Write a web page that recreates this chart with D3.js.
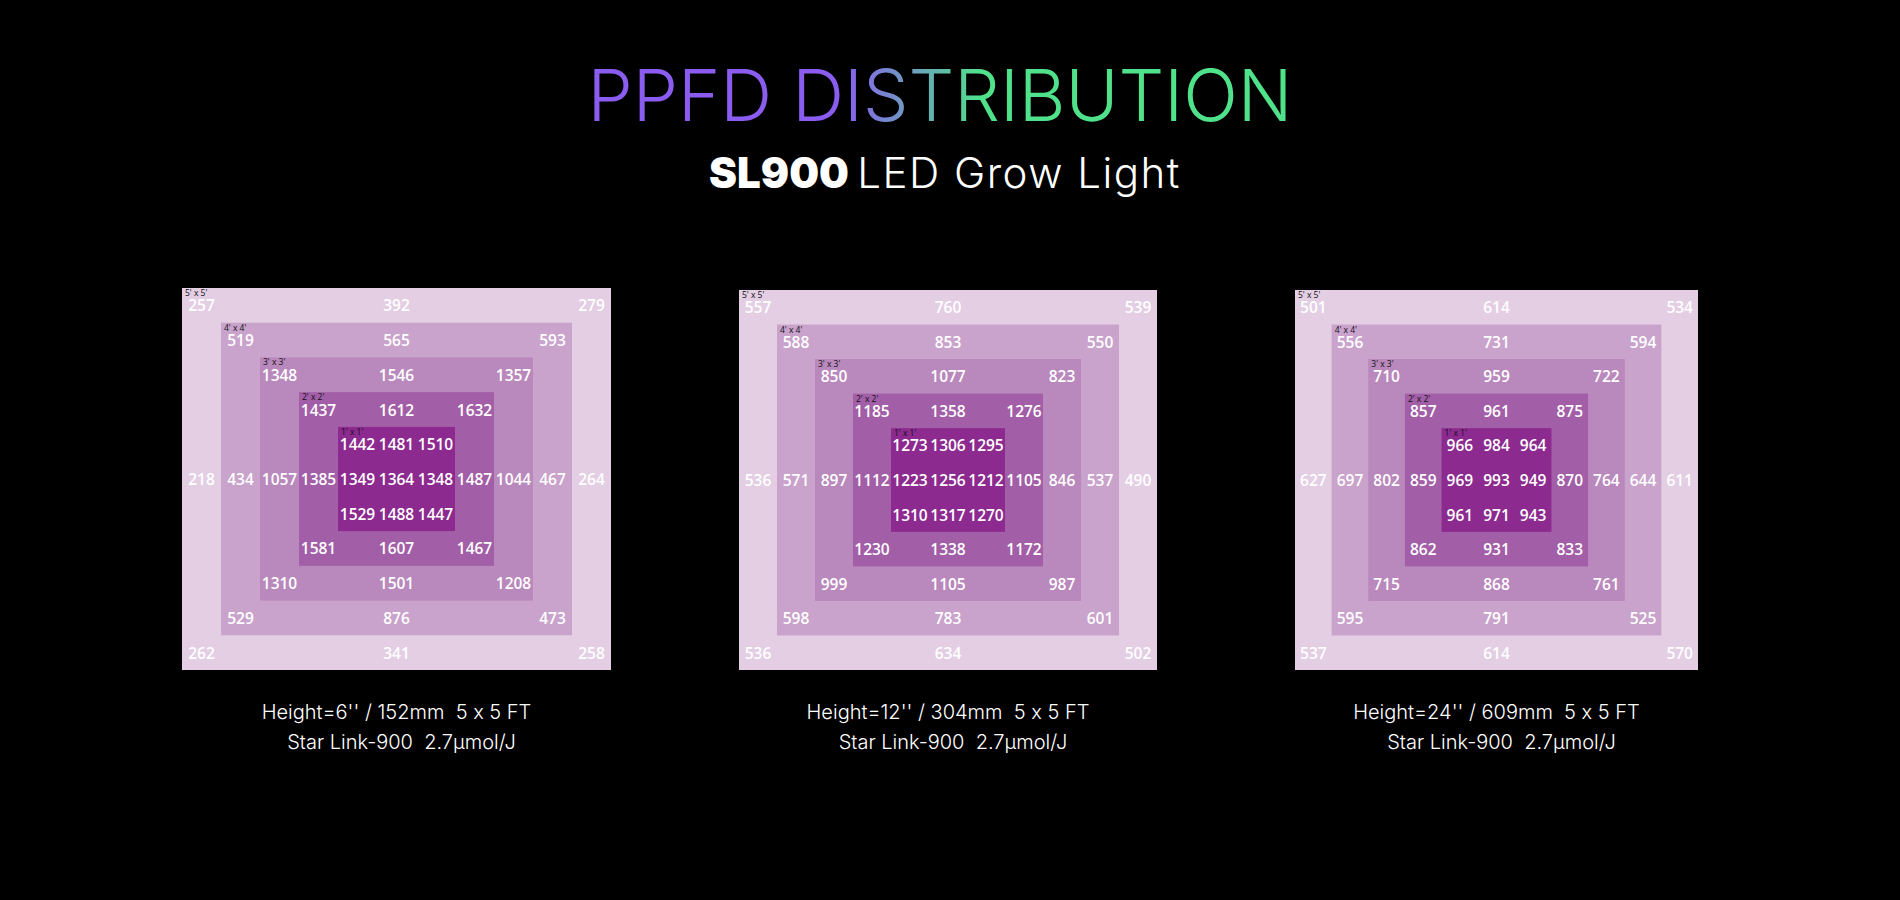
<!DOCTYPE html>
<html>
<head>
<meta charset="utf-8">
<script src="https://cdn.jsdelivr.net/npm/d3@7"></script>
<style>
  body { margin: 0; background: #000; }
  svg { display: block; }
  text { font-feature-settings: "calt" 0; }
</style>
</head>
<body>
<div id="chart"></div>
<script>
// ring labels, outer to inner
var rings = ["5' x 5'", "4' x 4'", "3' x 3'", "2' x 2'", "1' x 1'"];
var ringColors = ["#e3cee4", "#c9a3cc", "#b988bc", "#a25ea7", "#8c2a8f"];

// PPFD values per panel, row by row (top to bottom)
var ppfd6 = [
  [257, 392, 279], [519, 565, 593], [1348, 1546, 1357], [1437, 1612, 1632],
  [1442, 1481, 1510],
  [218, 434, 1057, 1385, 1349, 1364, 1348, 1487, 1044, 467, 264],
  [1529, 1488, 1447],
  [1581, 1607, 1467], [1310, 1501, 1208], [529, 876, 473], [262, 341, 258]
];
var ppfd12 = [
  [557, 760, 539], [588, 853, 550], [850, 1077, 823], [1185, 1358, 1276],
  [1273, 1306, 1295],
  [536, 571, 897, 1112, 1223, 1256, 1212, 1105, 846, 537, 490],
  [1310, 1317, 1270],
  [1230, 1338, 1172], [999, 1105, 987], [598, 783, 601], [536, 634, 502]
];
var ppfd24 = [
  [501, 614, 534], [556, 731, 594], [710, 959, 722], [857, 961, 875],
  [966, 984, 964],
  [627, 697, 802, 859, 969, 993, 949, 870, 764, 644, 611],
  [961, 971, 943],
  [862, 931, 833], [715, 868, 761], [595, 791, 525], [537, 614, 570]
];
var captions = [
  ["Height=6'' / 152mm  5 x 5 FT", "Star Link-900  2.7μmol/J"],
  ["Height=12'' / 304mm  5 x 5 FT", "Star Link-900  2.7μmol/J"],
  ["Height=24'' / 609mm  5 x 5 FT", "Star Link-900  2.7μmol/J"]
];
var panelData = [ppfd6, ppfd12, ppfd24];

var width = 1900, height = 900;
var panels = [
  {x0: 182, x1: 611, y0: 288, y1: 670},
  {x0: 739, x1: 1157, y0: 290, y1: 670},
  {x0: 1295, x1: 1698, y0: 290, y1: 670}
];

var svg = d3.select("#chart").append("svg")
  .attr("width", width).attr("height", height);

// title with gradient
var defs = svg.append("defs");
var grad = defs.append("linearGradient").attr("id", "tg")
  .attr("gradientUnits", "userSpaceOnUse")
  .attr("x1", 590).attr("x2", 1290).attr("y1", 0).attr("y2", 0);
grad.append("stop").attr("offset", "0.36").attr("stop-color", "#8a5cf0");
grad.append("stop").attr("offset", "0.56").attr("stop-color", "#4fe28a");
grad.append("stop").attr("offset", "1").attr("stop-color", "#4fe28a");

svg.append("text")
  .attr("x", 940).attr("y", 121)
  .attr("text-anchor", "middle")
  .style("font-family", "Inter, 'Open Sans', sans-serif")
  .style("font-weight", 300)
  .style("font-size", "72px")
  .attr("fill", "url(#tg)")
  .text("PPFD DISTRIBUTION");

var sub = svg.append("text")
  .attr("x", 945).attr("y", 188)
  .attr("text-anchor", "middle")
  .style("font-family", "Inter, 'Open Sans', sans-serif")
  .style("font-size", "42px")
  .attr("fill", "#fff");
sub.append("tspan").style("font-weight", 900).text("SL900 ");
sub.append("tspan").style("font-weight", 300).style("letter-spacing", "1.5px").text("LED Grow Light");

// column index for each value in a row, by ring rule
function colsFor(r, n) {
  if (n === 11) return d3.range(11);
  var k = r <= 5 ? r : 10 - r;
  if (k === 4) return [4, 5, 6];
  return [k, 5, 10 - k];
}

panels.forEach(function(p, pi) {
  var x = d3.scaleLinear().domain([0, 11]).range([p.x0, p.x1]);
  var y = d3.scaleLinear().domain([0, 11]).range([p.y0, p.y1]);
  var g = svg.append("g");

  g.selectAll("rect")
    .data(rings)
    .enter().append("rect")
      .attr("x", function(d, i) { return x(i); })
      .attr("y", function(d, i) { return y(i); })
      .attr("width", function(d, i) { return x(11 - i) - x(i); })
      .attr("height", function(d, i) { return y(11 - i) - y(i); })
      .attr("fill", function(d, i) { return ringColors[i]; });

  g.selectAll(".ring-label")
    .data(rings)
    .enter().append("text")
      .attr("class", "ring-label")
      .attr("x", function(d, i) { return x(i) + 3; })
      .attr("y", function(d, i) { return y(i) + 8; })
      .style("font-family", "'Open Sans', sans-serif")
      .style("font-size", "8.5px")
      .attr("fill", "#111")
      .text(function(d) { return d; });

  var cells = [];
  panelData[pi].forEach(function(row, r) {
    var cols = colsFor(r, row.length);
    row.forEach(function(v, j) { cells.push({r: r, c: cols[j], v: v}); });
  });

  g.selectAll(".val")
    .data(cells)
    .enter().append("text")
      .attr("class", "val")
      .attr("x", function(d) { return x(d.c + 0.5); })
      .attr("y", function(d) { return y(d.r + 0.5) + 6; })
      .attr("text-anchor", "middle")
      .style("font-family", "'Open Sans', sans-serif")
      .style("font-weight", 600)
      .style("font-size", "15.5px")
      .attr("fill", "#fff")
      .text(function(d) { return d.v; });

  var cx = (p.x0 + p.x1) / 2;
  g.selectAll(".cap")
    .data(captions[pi])
    .enter().append("text")
      .attr("class", "cap")
      .attr("x", function(d, i) { return cx + i * 5; })
      .attr("y", function(d, i) { return 719 + i * 30; })
      .attr("text-anchor", "middle")
      .style("font-family", "Inter, 'Open Sans', sans-serif")
      .style("font-weight", 300)
      .style("font-size", "20px")
      .attr("xml:space", "preserve")
      .attr("fill", "#fff")
      .text(function(d) { return d; });
});
</script>
</body>
</html>
